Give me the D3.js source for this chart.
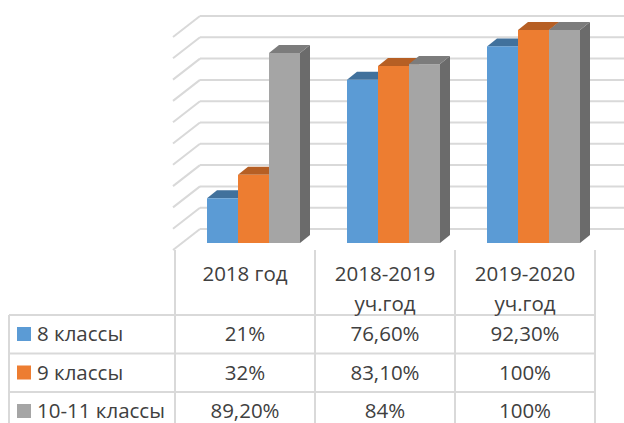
<!DOCTYPE html>
<html>
<head>
<meta charset="utf-8">
<script src="https://cdn.jsdelivr.net/npm/d3@7"></script>
<style>
  html, body { margin: 0; padding: 0; background: #fff; }
  svg { display: block; font-family: "Open Sans", sans-serif; }
</style>
</head>
<body>
<div id="chart"></div>
<script>
// данные
const categories = ["2018 год", "2018-2019 уч.год", "2019-2020 уч.год"];
const headerLines = [["2018 год"], ["2018-2019", "уч.год"], ["2019-2020", "уч.год"]];
const seriesNames = ["8 классы", "9 классы", "10-11 классы"];
const values8 = [0.21, 0.766, 0.923];
const values9 = [0.32, 0.831, 1.0];
const values10 = [0.892, 0.84, 1.0];
const labels8 = ["21%", "76,60%", "92,30%"];
const labels9 = ["32%", "83,10%", "100%"];
const labels10 = ["89,20%", "84%", "100%"];
const yTicks = [0, 0.1, 0.2, 0.3, 0.4, 0.5, 0.6, 0.7, 0.8, 0.9, 1.0];

const seriesValues = [values8, values9, values10];
const seriesLabels = [labels8, labels9, labels10];
const colors = {
  "8 классы": { front: "#5b9bd5", top: "#41719c", side: "#3d6b94" },
  "9 классы": { front: "#ed7d31", top: "#b65f24", side: "#ae5a21" },
  "10-11 классы": { front: "#a5a5a5", top: "#7c7c7c", side: "#6b6b6b" }
};

const width = 624, height = 423;
const depthX = 10, depthY = -8;      // глубина столбца
const wallX = 200, wallDY = -14;     // задняя стенка
const floorX = 173, floorDY = 7;     // передний край боковой стенки
const gridColor = "#d9d9d9";
const textColor = "#404040";
const fontSize = "20.5px";

const svg = d3.select("#chart").append("svg")
  .attr("width", width)
  .attr("height", height);

const x = d3.scaleBand().domain(categories).range([175, 595]);
const xInner = d3.scaleBand().domain(seriesNames).range([32, 125]);
const y = d3.scaleLinear().domain([0, 1]).range([243, 30]);

// сетка: задняя и боковая стенки
const grid = svg.append("g");
yTicks.forEach(t => {
  const yb = y(t) + wallDY;
  grid.append("line")
    .attr("x1", wallX).attr("x2", width)
    .attr("y1", yb).attr("y2", yb)
    .attr("stroke", gridColor).attr("stroke-width", 2);
  grid.append("line")
    .attr("x1", floorX).attr("x2", wallX)
    .attr("y1", y(t) + floorDY).attr("y2", yb)
    .attr("stroke", gridColor).attr("stroke-width", 2);
});

// 3D столбцы
const bars = svg.append("g");
categories.forEach((c, ci) => {
  seriesNames.forEach((s, si) => {
    const v = seriesValues[si][ci];
    const x0 = x(c) + xInner(s);
    const w = xInner.bandwidth();
    const y0 = y(v), yb = y(0);
    const col = colors[s];
    // боковая грань
    bars.append("path")
      .attr("d", `M${x0 + w},${y0}L${x0 + w + depthX},${y0 + depthY}L${x0 + w + depthX},${yb + depthY}L${x0 + w},${yb}Z`)
      .attr("fill", col.side);
    // верхняя грань
    bars.append("path")
      .attr("d", `M${x0},${y0}L${x0 + depthX},${y0 + depthY}L${x0 + w + depthX},${y0 + depthY}L${x0 + w},${y0}Z`)
      .attr("fill", col.top);
    // передняя грань
    bars.append("rect")
      .attr("x", x0).attr("y", y0)
      .attr("width", w).attr("height", yb - y0)
      .attr("fill", col.front);
  });
});

// таблица данных
const table = svg.append("g");
const rowTop = 315, rowH = 38.5;
const tableLeft = 9, tableRight = 595;
const colEdges = categories.map(c => x(c)).concat([x.range()[1]]);

colEdges.forEach(cx => {
  table.append("line")
    .attr("x1", cx).attr("x2", cx)
    .attr("y1", 250).attr("y2", height)
    .attr("stroke", gridColor).attr("stroke-width", 2);
});
table.append("line")
  .attr("x1", tableLeft).attr("x2", tableLeft)
  .attr("y1", rowTop).attr("y2", height)
  .attr("stroke", gridColor).attr("stroke-width", 2);
seriesNames.forEach((s, i) => {
  const yy = rowTop + i * rowH;
  table.append("line")
    .attr("x1", tableLeft).attr("x2", tableRight)
    .attr("y1", yy).attr("y2", yy)
    .attr("stroke", gridColor).attr("stroke-width", 2);
});

// заголовки столбцов
categories.forEach((c, ci) => {
  headerLines[ci].forEach((line, li) => {
    table.append("text")
      .attr("x", x(c) + x.bandwidth() / 2)
      .attr("y", 281 + li * 30)
      .attr("text-anchor", "middle")
      .attr("font-size", fontSize)
      .attr("fill", textColor)
      .text(line);
  });
});

// строки: легенда + значения
seriesNames.forEach((s, si) => {
  const base = rowTop + si * rowH + 26;
  table.append("rect")
    .attr("x", 17).attr("y", base - 14)
    .attr("width", 14).attr("height", 14)
    .attr("fill", colors[s].front);
  table.append("text")
    .attr("x", 37).attr("y", base)
    .attr("font-size", fontSize)
    .attr("fill", textColor)
    .text(s);
  categories.forEach((c, ci) => {
    table.append("text")
      .attr("x", x(c) + x.bandwidth() / 2)
      .attr("y", base)
      .attr("text-anchor", "middle")
      .attr("font-size", fontSize)
      .attr("fill", textColor)
      .text(seriesLabels[si][ci]);
  });
});
</script>
</body>
</html>
